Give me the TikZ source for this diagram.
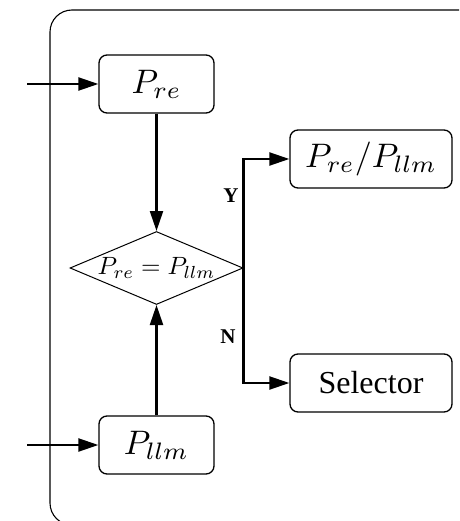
\documentclass[tikz,border=0pt]{standalone}
\usepackage{graphicx}
\usepackage{fontspec}
\setmainfont{Liberation Serif}
\usetikzlibrary{arrows.meta,shapes.geometric}
\newcommand{\bigmath}[1]{\scalebox{3.4}{$#1$}}
\begin{document}
\begin{tikzpicture}[x=1pt,y=-1pt,
  box/.style={draw,line width=1.3pt,rounded corners=8pt,minimum width=115pt,minimum height=58pt,inner sep=0pt},
  widebox/.style={box,minimum width=162pt},
  decide/.style={draw,line width=1pt,diamond,aspect=2.37,minimum width=173pt,minimum height=73pt,inner sep=0pt},
  flow/.style={line width=2.2pt,-{Triangle[length=20pt,width=13pt]}},
  yn/.style={font=\bfseries\fontsize{21}{24}\selectfont}]
  \useasboundingbox (0,0) rectangle (459,521);
  \clip (0,0) rectangle (459,521);
  % enclosing panel, only its left part is visible
  \draw[line width=1.1pt,rounded corners=22pt] (50,10) rectangle (520,525);

  \node[box] (pre) at (156.5,84) {\bigmath{P_{re}}};
  \node[box] (pllm) at (156.5,445) {\bigmath{P_{llm}}};
  \node[decide] (eq) at (156.5,268) {\scalebox{2.5}{$P_{re}=P_{llm}$}};
  \node[widebox] (out) at (371,159) {\bigmath{P_{re}/P_{llm}}};
  \node[widebox] (sel) at (371,383) {\fontsize{32}{36}\selectfont Selector};

  \coordinate (inre) at (27,84);
  \coordinate (inllm) at (27,445);

  \draw[flow] (inre) -- (pre);
  \draw[flow] (inllm) -- (pllm);
  \draw[flow] (pre) -- (eq.north);
  \draw[flow] (pllm) -- (eq.south);
  \draw[flow] (eq.east) |- (out.west);
  \draw[flow] (eq.east) |- (sel.west);

  \node[yn] (ylab) at (231,196) {Y};
  \node[yn] (nlab) at (228,337) {N};
\end{tikzpicture}
\end{document}
